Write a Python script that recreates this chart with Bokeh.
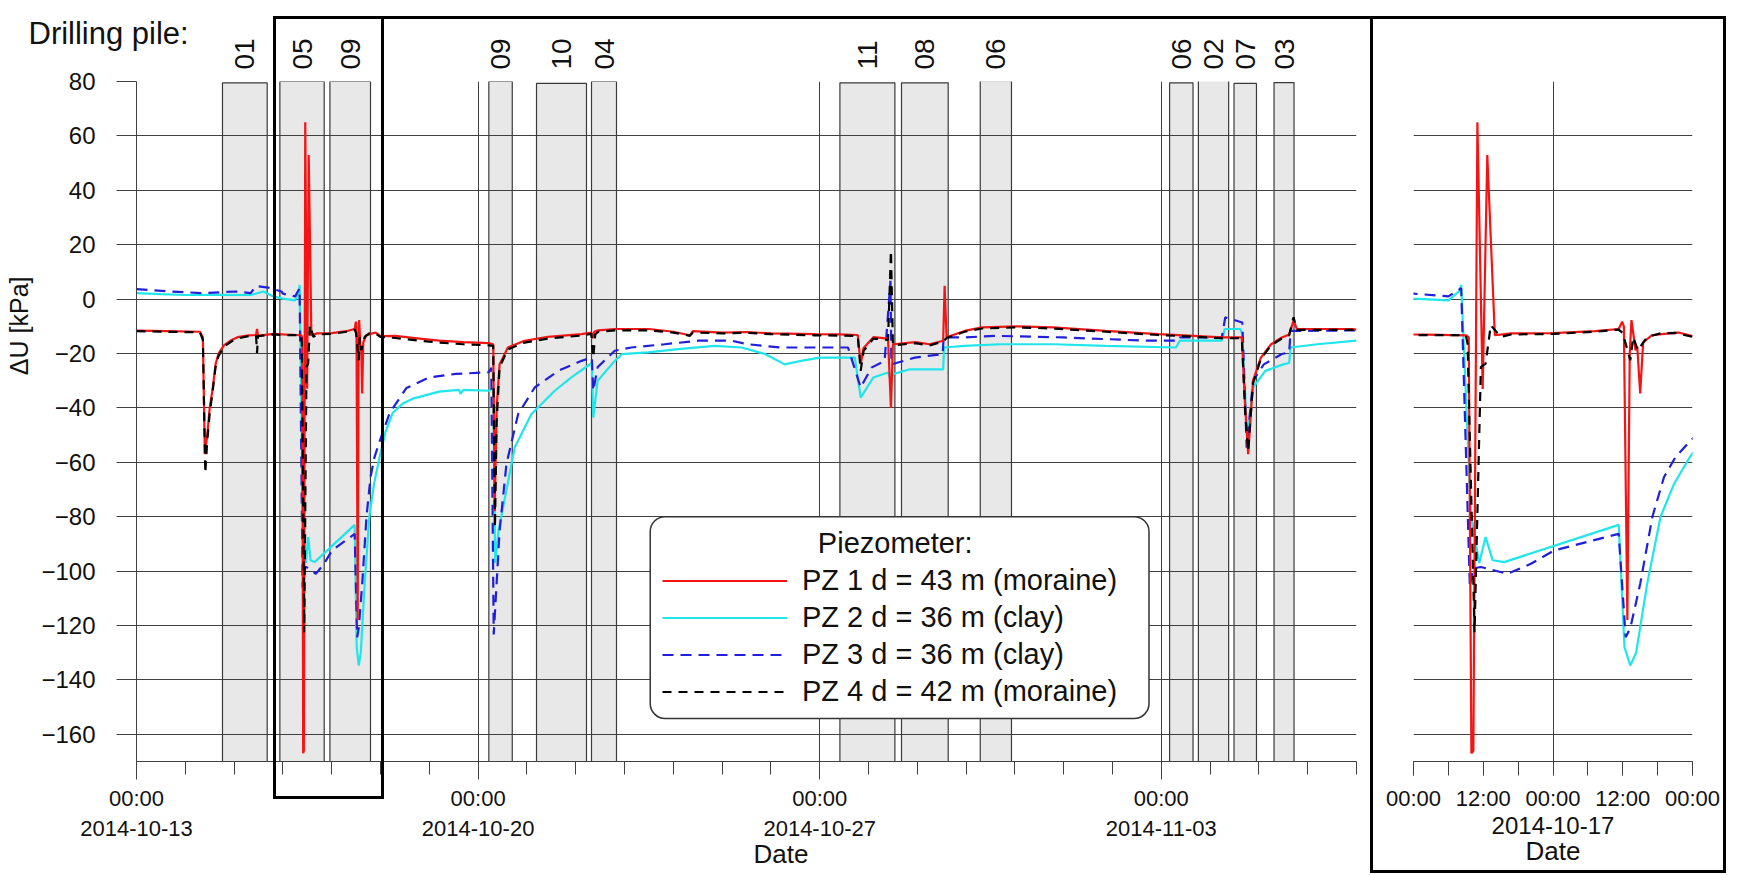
import numpy as np
import pandas as pd
from bokeh.plotting import figure
from bokeh.layouts import row
from bokeh.models import (Range1d, FixedTicker, DatetimeTickFormatter, Label, LinearAxis, Title,
                          Legend, LegendItem, ColumnDataSource, Div, BoxAnnotation)
from bokeh.embed import file_html
from bokeh.resources import INLINE

# ---------------- data (time = elapsed days since START) ----------------
START = "2014-10-13 00:00"

pz1_day = [0.00, 0.60, 1.30, 1.36, 1.40, 1.45, 1.50, 1.56, 1.62, 1.68, 1.79, 1.95, 2.07, 2.30,
           2.45, 2.47, 2.49, 2.80, 3.00, 3.375, 3.396, 3.415, 3.429, 3.458, 3.496, 3.529, 3.583,
           3.70, 4.00, 4.30, 4.471, 4.496, 4.508, 4.533, 4.55, 4.5625, 4.592, 4.604, 4.625, 4.646,
           4.708, 4.80, 4.90, 5.00, 5.30, 5.80, 6.20, 6.70, 7.22, 7.31, 7.34, 7.38, 7.44, 7.61,
           7.95, 8.43, 9.12, 9.32, 9.34, 9.38, 9.46, 9.80, 10.50, 11.00, 11.34, 11.40, 12.00,
           12.50, 13.00, 13.90, 14.40, 14.78, 14.84, 14.90, 15.10, 15.40, 15.46, 15.50, 15.96,
           16.25, 16.53, 16.56, 16.60, 16.97, 17.33, 18.05, 18.78, 19.86, 20.94, 21.66, 22.24,
           22.65, 22.72, 22.78, 22.88, 23.04, 23.25, 23.47, 23.62, 23.71, 23.78, 24.91, 25.00]
pz1_val = [-11.6, -11.8, -12.0, -14.0, -57.0, -50.0, -40.0, -33.0, -24.0, -20.0, -17.0, -15.0, -14.0, -13.3,
           -13.2, -11.0, -13.5, -12.8, -13.0, -13.3, -14.0, -167.0, -166.0, 65.0, -33.0, 53.0, -13.3,
           -12.6, -12.5, -11.8, -11.0, -8.3, -10.0, -118.0, -20.0, -7.7, -18.8, -17.5, -34.7, -16.0,
           -13.3, -12.8, -12.3, -13.6, -13.5, -14.5, -15.3, -15.8, -16.2, -16.6, -78.0, -40.0, -24.0, -17.8,
           -15.3, -13.9, -12.9, -12.3, -14.5, -12.0, -11.5, -11.0, -11.0, -12.0, -13.3, -11.8, -12.3,
           -12.1, -12.6, -12.9, -13.0, -13.2, -24.0, -18.0, -14.0, -14.5, -40.0, -16.6, -15.8,
           -16.6, -15.3, 4.9, -14.0, -11.7, -10.4, -10.0, -10.4, -11.7, -12.9, -13.5, -14.1,
           -14.1, -40.0, -57.0, -30.0, -21.5, -16.6, -14.1, -13.0, -8.0, -11.0, -11.0, -11.2]

pz2_day = [0.00, 0.50, 1.00, 1.60, 2.34, 2.60, 2.81, 3.00, 3.25, 3.33, 3.342, 3.4125, 3.471, 3.517,
           3.567, 3.65, 4.471, 4.5125, 4.554, 4.596, 4.675, 4.771, 4.867, 4.975, 5.10, 5.25, 5.45,
           5.66, 6.20, 6.61, 6.64, 6.70, 7.22, 7.31, 7.35, 7.42, 7.55, 7.75, 8.09, 8.57, 8.91, 9.25,
           9.33, 9.36, 9.45, 9.80, 9.95, 10.48, 11.10, 11.85, 12.40, 12.88, 13.28, 13.62, 14.00,
           14.72, 14.84, 15.10, 15.40, 15.46, 15.50, 15.85, 16.35, 16.53, 16.55, 16.97, 17.70,
           18.80, 19.86, 21.30, 21.38, 22.24, 22.30, 22.62, 22.66, 22.76, 22.88, 23.13, 23.50,
           23.62, 23.65, 24.20, 25.00]
pz2_val = [2.2, 1.8, 1.5, 1.6, 1.5, 2.8, 0.9, 0.2, -0.5, 3.0, 5.2, -80.0, -97.0, -87.5,
           -96.0, -96.7, -83.0, -128.0, -134.7, -130.0, -104.7, -80.0, -68.0, -58.6, -49.0, -41.8, -38.5,
           -36.6, -34.0, -33.4, -34.8, -33.4, -33.7, -32.5, -97.0, -85.0, -73.0, -54.6, -42.3, -33.7, -28.8, -24.5,
           -23.5, -43.6, -30.0, -22.7, -20.2, -19.6, -18.4, -17.2, -17.8, -20.2, -24.0, -22.7, -21.5,
           -21.5, -36.2, -28.8, -27.0, -30.0, -27.6, -25.8, -25.8, -25.8, -17.8, -17.2, -16.6,
           -16.6, -17.2, -17.8, -15.3, -15.3, -11.0, -11.0, -13.0, -51.0, -32.5, -26.4, -24.0,
           -23.5, -17.8, -16.6, -15.3]

pz3_day = [0.00, 0.70, 1.36, 2.04, 2.34, 2.45, 2.70, 2.97, 3.00, 3.25, 3.342, 3.404, 3.425, 3.483,
           3.675, 3.842, 4.008, 4.471, 4.521, 4.554, 4.625, 4.7125, 4.796, 4.879, 4.9875, 5.19, 5.53,
           6.00, 6.54, 7.22, 7.27, 7.32, 7.44, 7.58, 7.82, 8.16, 8.64, 9.12, 9.33, 9.36, 9.45, 9.80,
           10.14, 10.82, 11.51, 12.20, 12.53, 13.20, 14.58, 14.84, 15.06, 15.33, 15.45, 15.47, 15.95,
           16.52, 16.54, 16.95, 17.60, 19.00, 20.70, 21.36, 21.38, 22.24, 22.31, 22.66, 22.75, 22.88,
           23.10, 23.47, 23.62, 23.65, 25.00]
pz3_val = [3.7, 2.8, 2.2, 2.8, 2.2, 4.8, 4.2, 2.8, 2.0, 1.0, 4.0, -106.0, -99.0, -98.5,
           -101.0, -97.3, -92.4, -86.3, -124.3, -121.0, -104.7, -80.0, -65.4, -58.0, -52.0, -41.8, -32.7,
           -28.8, -27.5, -26.9, -25.2, -123.3, -85.3, -60.7, -42.3, -32.5, -26.4, -22.7, -21.5, -33.7, -25.0, -19.0,
           -17.8, -16.6, -15.3, -15.3, -16.6, -17.8, -17.8, -32.5, -25.2, -22.7, 6.7, -24.0, -21.5,
           -20.2, -14.1, -14.1, -13.5, -14.1, -15.3, -15.3, -14.1, -14.1, -6.7, -8.6, -54.6, -30.0,
           -24.0, -20.2, -19.6, -11.7, -11.5]

pz4_day = [0.00, 0.60, 1.30, 1.36, 1.41, 1.45, 1.50, 1.56, 1.62, 1.68, 1.79, 1.95, 2.07, 2.30,
           2.45, 2.47, 2.49, 2.80, 3.00, 3.375, 3.3875, 3.4375, 3.483, 3.517, 3.554, 3.625, 3.70,
           4.00, 4.30, 4.471, 4.50, 4.554, 4.575, 4.608, 4.675, 4.771, 4.875, 5.00, 5.30, 5.80, 6.20,
           6.70, 7.22, 7.31, 7.345, 7.38, 7.44, 7.61, 7.95, 8.43, 9.12, 9.32, 9.36, 9.40, 9.46, 9.80,
           10.50, 11.00, 11.34, 11.40, 12.00, 12.50, 13.00, 13.90, 14.40, 14.78, 14.84, 14.90, 15.10,
           15.40, 15.46, 15.50, 15.96, 16.25, 16.53, 16.60, 16.97, 17.33, 18.05, 18.78, 19.86, 20.94,
           21.66, 22.24, 22.65, 22.72, 22.78, 22.88, 23.04, 23.25, 23.47, 23.62, 23.71, 23.78, 24.91, 25.00]
pz4_val = [-11.8, -12.0, -12.2, -15.0, -64.0, -52.0, -42.0, -34.0, -25.0, -21.0, -17.5, -15.5, -14.5, -13.6,
           -13.5, -19.8, -13.6, -13.0, -13.2, -13.3, -16.3, -122.5, -25.0, -23.7, -9.6, -13.9, -13.0,
           -12.8, -12.0, -11.2, -12.5, -22.5, -14.0, -18.8, -13.9, -12.6, -12.4, -13.9, -14.3, -15.3, -16.0,
           -16.6, -17.0, -17.2, -84.0, -45.0, -25.0, -18.5, -16.0, -14.5, -13.4, -12.8, -21.5, -13.0, -12.0, -11.5,
           -11.5, -12.3, -13.5, -12.3, -12.6, -12.4, -12.9, -13.3, -13.4, -13.6, -26.4, -19.0, -14.5,
           -15.0, 17.8, -17.0, -16.2, -17.0, -15.6, -14.3, -12.0, -10.8, -10.4, -10.8, -12.0, -13.2,
           -13.8, -14.4, -14.4, -42.0, -56.0, -31.0, -22.0, -17.0, -14.5, -13.3, -6.7, -11.3, -11.3, -11.5]

series_names = ["PZ 1 d = 43 m (moraine)", "PZ 2 d = 36 m (clay)",
                "PZ 3 d = 36 m (clay)", "PZ 4 d = 42 m (moraine)"]

pile_labels = ["01", "05", "09", "09", "10", "04", "11", "08", "06", "06", "02", "07", "03"]
pile_start = [1.762, 2.938, 3.963, 7.22, 8.197, 9.324, 14.414, 15.676, 17.29, 21.17, 21.76, 22.49, 23.31]
pile_end = [2.678, 3.846, 4.795, 7.70, 9.221, 9.836, 15.541, 16.633, 17.93, 21.65, 22.38, 22.95, 23.72]
pile_top = [79.5, 80.0, 80.0, 80.0, 79.3, 80.0, 79.5, 79.5, 80.3, 79.5, 80.5, 79.3, 79.6]

y_ticks = [80, 60, 40, 20, 0, -20, -40, -60, -80, -100, -120, -140, -160]
main_major_days = [0, 7, 14, 21]
main_minor_days = list(range(0, 26))
zoom_major_days = [3.0, 3.5, 4.0, 4.5, 5.0]
zoom_minor_days = [3.0, 3.25, 3.5, 3.75, 4.0, 4.25, 4.5, 4.75, 5.0]

# ---------------- helpers ----------------
T0 = pd.Timestamp(START)
EPOCH = pd.Timestamp("1970-01-01")


def to_ms(days):
    d = T0 + pd.to_timedelta(np.asarray(days, dtype=float), unit="D")
    return ((d - EPOCH) / pd.Timedelta(milliseconds=1)).to_numpy().astype(float)


FONT = "Liberation Sans"
GRID = "#404040"
TXT = "#111111"
H = 875
W_MAIN = 1370
W_ZOOM = 372

COLORS = ["#f51414", "#1ee6ea", "#1f1fdc", "#000000"]
DASHES = ["solid", "solid", "11 7", "9 7"]
days_list = [pz1_day, pz2_day, pz3_day, pz4_day]
vals_list = [pz1_val, pz2_val, pz3_val, pz4_val]


def style_common(fig, major_out, minor_out, standoff):
    fig.outline_line_color = None
    fig.background_fill_color = "white"
    fig.border_fill_color = "white"
    for g in fig.ygrid:
        g.ticker = FixedTicker(ticks=y_ticks)
        g.grid_line_color = GRID
        g.grid_line_width = 1
    for g in fig.xgrid:
        g.grid_line_color = GRID
        g.grid_line_width = 1
    for ya in fig.yaxis:
        ya.ticker = FixedTicker(ticks=y_ticks)
        ya.axis_line_color = GRID
        ya.major_tick_line_color = GRID
        ya.major_tick_out = 20
        ya.major_tick_in = 0
        ya.minor_tick_out = 0
        ya.minor_tick_in = 0
    xa = fig.xaxis[0]
    xa.axis_line_color = GRID
    xa.major_tick_line_color = GRID
    xa.minor_tick_line_color = GRID
    xa.major_tick_out = major_out
    xa.major_tick_in = 0
    xa.minor_tick_out = minor_out
    xa.minor_tick_in = 0
    xa.major_label_standoff = standoff
    xa.major_label_text_font = FONT
    xa.major_label_text_font_size = "22px"
    xa.major_label_text_color = TXT
    xa.major_label_text_line_height = 1.2


def draw_series(fig):
    rmap = {}
    for i in [1, 2, 0, 3]:
        rmap[i] = fig.line(to_ms(days_list[i]), vals_list[i], line_color=COLORS[i],
                           line_width=2.2, line_dash=DASHES[i])
    return [rmap[i] for i in range(4)]


def title_text(t, size):
    t.text_font = FONT
    t.text_font_size = size
    t.text_font_style = "normal"
    t.text_color = TXT


# ---------------- main panel ----------------
p = figure(width=W_MAIN, height=H, x_axis_type="datetime", output_backend="svg",
           toolbar_location=None, x_range=Range1d(to_ms([0])[0], to_ms([25])[0]),
           y_range=Range1d(-170, 80), min_border_left=133, min_border_right=14,
           min_border_top=81, min_border_bottom=114)
style_common(p, 18, 13, 6)
p.xgrid[0].ticker = FixedTicker(ticks=to_ms(main_major_days).tolist())
xa = p.xaxis[0]
xa.ticker = FixedTicker(ticks=to_ms(main_major_days).tolist(),
                        minor_ticks=to_ms(main_minor_days).tolist())
f2 = "%H:%M\n%Y-%m-%d"
xa.formatter = DatetimeTickFormatter(hours=f2, hourmin=f2, days=f2, months=f2, years=f2)
ya = p.yaxis[0]
ya.major_label_standoff = 21
ya.major_label_text_font = FONT
ya.major_label_text_font_size = "24px"
ya.major_label_text_color = TXT

# drilling pile boxes
pile_src = ColumnDataSource(dict(left=to_ms(pile_start), right=to_ms(pile_end), top=pile_top,
                                 bottom=[-170] * len(pile_start)))
p.quad(left="left", right="right", top="top", bottom="bottom", source=pile_src,
       fill_color="#e8e8e8", line_color="#3a3a3a", line_width=1.2, level="image")

# drilling pile names: an axis above the plot
centers = [int(round(v)) for v in (to_ms(pile_start) + to_ms(pile_end)) / 2.0]
pile_axis = LinearAxis(ticker=FixedTicker(ticks=centers, minor_ticks=[]),
                       major_label_overrides={c: t for c, t in zip(centers, pile_labels)},
                       major_label_orientation="vertical", major_label_standoff=12,
                       major_tick_out=0, major_tick_in=0, minor_tick_out=0, minor_tick_in=0,
                       axis_line_color=None, major_tick_line_color=None,
                       minor_tick_line_color=None, major_label_text_font=FONT,
                       major_label_text_font_size="28px", major_label_text_color=TXT)
p.add_layout(pile_axis, "above")

# title "Drilling pile:"
p.title.text = "Drilling pile:"
p.title.align = "left"
p.title.offset = -108
p.title.standoff = -30
title_text(p.title, "31px")

# y axis title
yt = Title(text="\u0394U [kPa]", align="right", offset=195, vertical_align="top", standoff=8)
title_text(yt, "25px")
p.add_layout(yt, "left")

# x axis title
xt = Title(text="Date", align="left", offset=617, vertical_align="top", standoff=-10)
title_text(xt, "26px")
p.add_layout(xt, "below")

r1, r2, r3, r4 = draw_series(p)

# legend: white rounded panel, items, and heading
panel = BoxAnnotation(left=to_ms([10.527])[0], right=to_ms([20.748])[0], top=-80.0, bottom=-154.2,
                      fill_color="white", fill_alpha=1.0, line_color="#333333", line_alpha=1.0,
                      line_width=1.5, level="guide")
if "border_radius" in BoxAnnotation.properties():
    panel.border_radius = 15
p.add_layout(panel)

legend = Legend(items=[LegendItem(label=series_names[0], renderers=[r1]),
                       LegendItem(label=series_names[1], renderers=[r2]),
                       LegendItem(label=series_names[2], renderers=[r3]),
                       LegendItem(label=series_names[3], renderers=[r4])],
                location=(526, 51), padding=14, spacing=0, margin=0, label_standoff=15,
                glyph_width=125, glyph_height=37, label_height=37, label_text_font=FONT,
                label_text_font_size="29px", label_text_color=TXT,
                border_line_color=None, background_fill_alpha=0.0)
p.add_layout(legend)

p.add_layout(Label(x=to_ms([13.962])[0], y=-89.85, text="Piezometer:",
                   text_font=FONT, text_font_size="29px", text_color=TXT,
                   text_align="left", text_baseline="middle"))

# ---------------- zoom panel ----------------
q = figure(width=W_ZOOM, height=H, x_axis_type="datetime", output_backend="svg",
           toolbar_location=None, x_range=Range1d(to_ms([3])[0], to_ms([5])[0]),
           y_range=Range1d(-170, 80), y_axis_location=None, min_border_left=43,
           min_border_right=50, min_border_top=81, min_border_bottom=114)
style_common(q, 14, 14, 10)
q.xgrid[0].ticker = FixedTicker(ticks=to_ms([3, 4]).tolist())
qa = q.xaxis[0]
qa.ticker = FixedTicker(ticks=to_ms(zoom_major_days).tolist(),
                        minor_ticks=to_ms(zoom_minor_days).tolist())
f1 = "%H:%M"
qa.formatter = DatetimeTickFormatter(hours=f1, hourmin=f1, days=f1, months=f1, years=f1)
qa.axis_label = "2014-10-17"
qa.axis_label_text_font = FONT
qa.axis_label_text_font_size = "24px"
qa.axis_label_text_font_style = "normal"
qa.axis_label_text_color = TXT
qa.axis_label_standoff = 3
draw_series(q)
qt = Title(text="Date", align="center", vertical_align="top", standoff=-2)
title_text(qt, "26px")
q.add_layout(qt, "below")


# ---------------- decorative frames (page overlays) ----------------
def frame_div(left, top, width, height, filled=False):
    st = {"position": "absolute", "left": f"{left}px", "top": f"{top}px",
          "width": f"{width}px", "height": f"{height}px", "box-sizing": "border-box",
          "pointer-events": "none", "z-index": "10", "margin": "0px"}
    if filled:
        st["background-color"] = "black"
    else:
        st["border"] = "3px solid black"
    return Div(text="", width=width, height=height, margin=(0, 0, 0, 0), styles=st)


frames = [frame_div(273, 16, 111, 783),
          frame_div(381, 16, 992, 3, filled=True),
          frame_div(1370, 16, 356, 857)]

layout = row(p, q, *frames)
open("out.html", "w").write(file_html(layout, INLINE, title="Drilling piles - piezometers"))
